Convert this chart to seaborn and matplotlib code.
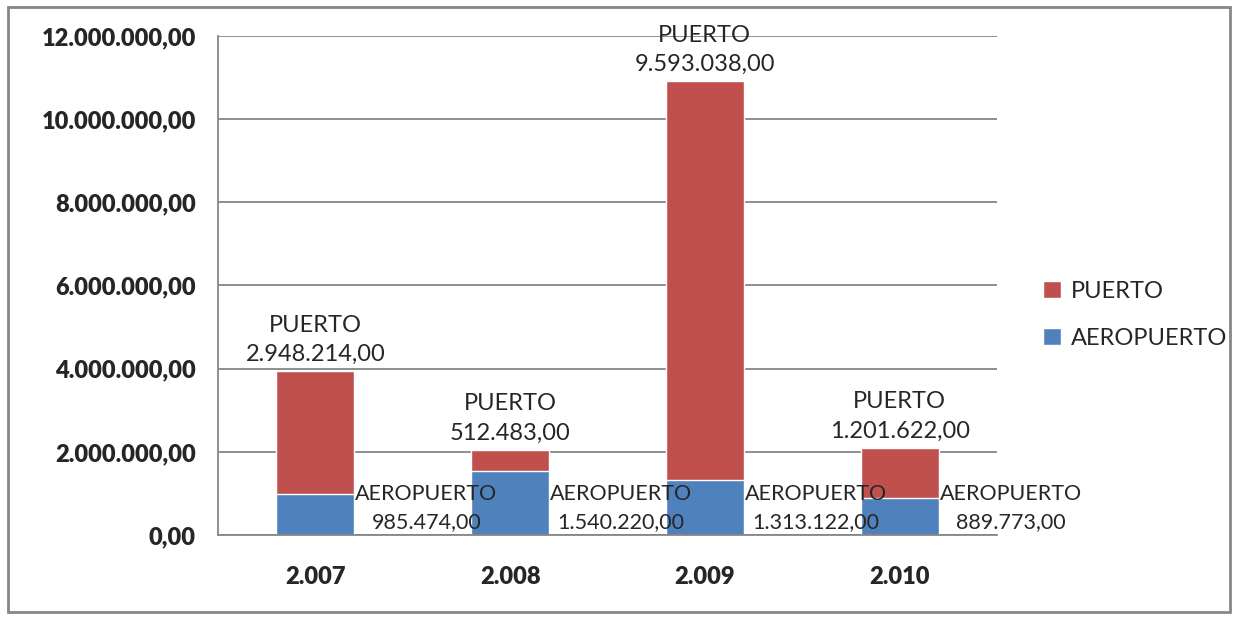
import numpy as np
import pandas as pd
import matplotlib
matplotlib.use("Agg")
import matplotlib.pyplot as plt
import seaborn as sns
from matplotlib.patches import Rectangle
from matplotlib.ticker import FuncFormatter

YEARS = ["2.007", "2.008", "2.009", "2.010"]
AEROPUERTO = [985474, 1540220, 1313122, 889773]
PUERTO = [2948214, 512483, 9593038, 1201622]

RED = "#C0504D"
BLUE = "#4F81BD"
GRID = "#868686"


def es_fmt(v):
    s = f"{v:,.2f}"
    return s.replace(",", "X").replace(".", ",").replace("X", ".")


sns.set_style("white")
plt.rcParams["font.family"] = ["Lato", "DejaVu Sans"]

df = pd.DataFrame({"year": YEARS, "aero": AEROPUERTO, "puerto": PUERTO})
df["total"] = df["aero"] + df["puerto"]

fig = plt.figure(figsize=(12.42, 6.17), dpi=100)
ax = fig.add_axes([0.1755, 0.1329, 0.8027 - 0.1755, 0.9417 - 0.1329])

# stacked bars: total in red, airport on top of it in blue
sns.barplot(data=df, x="year", y="total", color=RED, width=0.4,
            saturation=1, ax=ax, label="PUERTO")
sns.barplot(data=df, x="year", y="aero", color=BLUE, width=0.4,
            saturation=1, ax=ax, label="AEROPUERTO")

ax.set_ylim(0, 12_000_000)
ax.set_xlim(-0.5, 3.5)
ax.set_yticks(np.arange(0, 12_000_001, 2_000_000))
ax.yaxis.set_major_formatter(FuncFormatter(lambda v, p: es_fmt(v)))
ax.set_xlabel("")
ax.set_ylabel("")
ax.grid(axis="y", color=GRID, linewidth=1.3)
ax.set_axisbelow(True)
for side in ["top", "right"]:
    ax.spines[side].set_visible(False)
for side in ["left", "bottom"]:
    ax.spines[side].set_color(GRID)
    ax.spines[side].set_linewidth(1.3)

ax.tick_params(axis="y", length=8, color=GRID, width=1.3, labelsize=17, pad=8)
for t in ax.get_yticklabels():
    t.set_fontweight("heavy")

# x ticks: labels at centres, tick marks at category boundaries
ax.set_xticks(range(len(YEARS)))
ax.set_xticklabels(YEARS, fontsize=17, fontweight="heavy")
ax.tick_params(axis="x", length=0, pad=22)
ax.set_xticks(np.arange(0.5, len(YEARS), 1.0), minor=True)
ax.tick_params(axis="x", which="minor", length=8, color=GRID, width=1.3)

# data labels
for i, row in df.iterrows():
    ax.text(i, row["total"] + 150_000, "PUERTO\n" + es_fmt(row["puerto"]),
            ha="center", va="bottom", fontsize=17, linespacing=1.5)
    ax.text(i + 0.57, 650_000, "AEROPUERTO\n" + es_fmt(row["aero"]),
            ha="center", va="center", fontsize=15.5, linespacing=1.55)

handles, labels = ax.get_legend_handles_labels()
leg = fig.legend(handles, labels, loc="center left",
                 bbox_to_anchor=(0.823, 0.49), frameon=False,
                 fontsize=17, handlelength=0.75, handleheight=0.75,
                 labelspacing=1.1, handletextpad=0.4)
if ax.get_legend() is not None:
    ax.get_legend().remove()

fig.patches.append(Rectangle((0.0064, 0.008), 0.984, 0.981,
                             transform=fig.transFigure, fill=False,
                             edgecolor=GRID, linewidth=2))

fig.savefig("out.png", dpi=100)
